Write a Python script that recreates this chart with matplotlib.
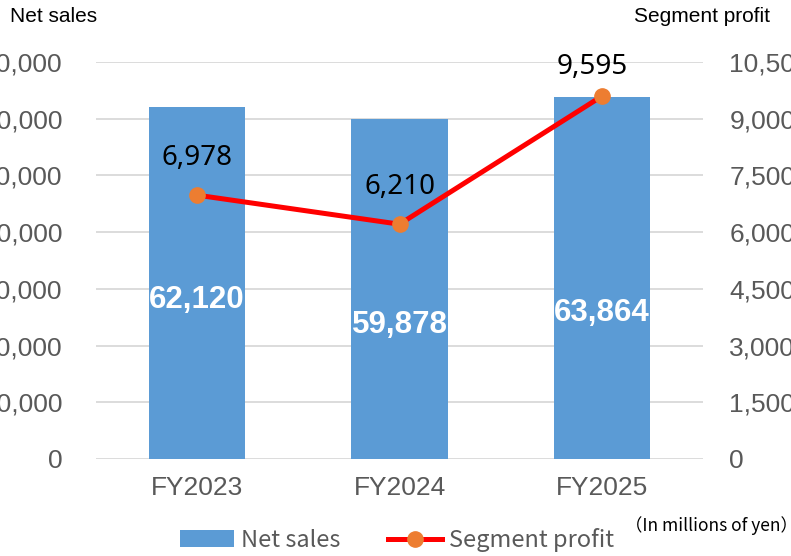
import matplotlib.pyplot as plt
import numpy as np

# 数据
years = ["FY2023", "FY2024", "FY2025"]
net_sales = [62120, 59878, 63864]
segment_profit = [6978, 6210, 9595]
left_ticks = [0, 10000, 20000, 30000, 40000, 50000, 60000, 70000]
right_ticks = [0, 1500, 3000, 4500, 6000, 7500, 9000, 10500]
# 柱内标签的纵向位置（原图中标签被手动挪过）
sales_label_y = [28000, 23600, 25700]

plt.rcParams['font.family'] = ['Liberation Sans', 'DejaVu Sans']
GRAY = "#595959"
BLUE = "#5B9BD5"
ORANGE = "#ED7D31"

fig = plt.figure(figsize=(7.91, 5.56), dpi=100)
ax = fig.add_axes([96 / 791, 97 / 556, 607 / 791, 397 / 556])
ax2 = ax.twinx()

x = np.arange(len(years))
bars = ax.bar(x, net_sales, width=0.475, color=BLUE, zorder=2, label="Net sales")
ax.set_xlim(-0.5, 2.5)
ax.set_ylim(0, 70000)
ax.set_yticks(left_ticks)
ax.set_yticklabels([f"{v:,}" for v in left_ticks])
ax.grid(axis="y", color="#D9D9D9", linewidth=1.3, zorder=0)
ax.set_axisbelow(True)
ax.set_xticks(x)
ax.set_xticklabels(years)
ax.tick_params(axis="y", length=0, pad=24, labelsize=19, labelcolor=GRAY)
ax.tick_params(axis="x", length=0, pad=12, labelsize=19, labelcolor=GRAY)
for s in ax.spines.values():
    s.set_visible(False)

# 柱内标签
for xi, v, ly in zip(x, net_sales, sales_label_y):
    ax.text(xi, ly, f"{v:,}", ha="center", va="center", color="white",
            fontsize=22.5, fontweight="bold")

# 折线：分部利润
ax2.plot(x, segment_profit, color="red", linewidth=3.6, marker="o", markersize=11,
         markerfacecolor=ORANGE, markeredgecolor=ORANGE, zorder=3, label="Segment profit")
ax2.set_ylim(0, 10500)
ax2.set_yticks(right_ticks)
ax2.set_yticklabels([f"{v:,}" for v in right_ticks])
ax2.tick_params(axis="y", length=0, pad=19, labelsize=19, labelcolor=GRAY)
for s in ax2.spines.values():
    s.set_visible(False)
offsets = [(0, 27), (0, 27), (-7, 21)]
for xi, v, off in zip(x, segment_profit, offsets):
    ax2.annotate(f"{v:,}", (xi, v), xytext=off, textcoords="offset points",
                 ha="center", va="center", fontsize=20, color="black",
                 family=["Noto Sans", "DejaVu Sans"])

# 轴标题
fig.text(10 / 791, 1 - 16 / 556, "Net sales", ha="left", va="center", fontsize=15)
fig.text(770 / 791, 1 - 16 / 556, "Segment profit", ha="right", va="center", fontsize=15)

# 图例
fig.legend(handles=[bars, ax2.lines[0]], labels=["Net sales", "Segment profit"],
           loc="center", bbox_to_anchor=(397 / 791, 1 - 540 / 556), ncol=2,
           frameon=False, handlelength=2.3, handleheight=0.7, columnspacing=2.0,
           handletextpad=0.3,
           prop={"family": ["Noto Sans CJK JP", "DejaVu Sans"], "size": 17},
           labelcolor=GRAY)
fig.text(798 / 791, 1 - 526 / 556, "（In millions of yen）", ha="right", va="center",
         fontsize=12.5, family=["Noto Sans CJK JP", "DejaVu Sans"])

plt.savefig("out.png", dpi=100)
